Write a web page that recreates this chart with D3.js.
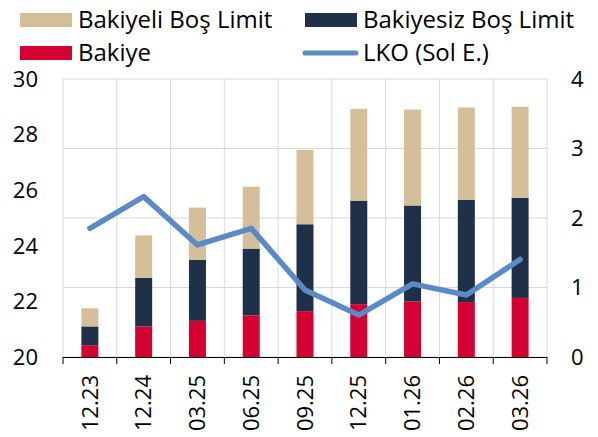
<!DOCTYPE html>
<html>
<head>
<meta charset="utf-8">
<script src="https://cdn.jsdelivr.net/npm/d3@7"></script>
<style>
  body { margin: 0; background: #fff; }
  svg { display: block; font-family: "Open Sans", sans-serif; }
</style>
</head>
<body>
<svg></svg>
<script>
// data
let categories = ['12.23', '12.24', '03.25', '06.25', '09.25', '12.25', '01.26', '02.26', '03.26']
let bakiye = [0.17, 0.44, 0.52, 0.60, 0.66, 0.76, 0.80, 0.79, 0.85]
let bakiyesizBosLimit = [0.27, 0.70, 0.88, 0.96, 1.25, 1.49, 1.38, 1.47, 1.44]
let bakiyeliBosLimit = [0.26, 0.61, 0.75, 0.89, 1.07, 1.32, 1.38, 1.33, 1.31]
let lko = [24.63, 25.77, 24.03, 24.63, 22.41, 21.51, 22.63, 22.23, 23.51]
let leftTicks = [20, 22, 24, 26, 28, 30]
let rightTicks = [0, 1, 2, 3, 4]

let width = 598
let height = 437
let plotLeft = 63
let plotRight = 547
let plotTop = 79
let plotBottom = 357

let colors = {
    bakiyeli: '#d5bf9a',
    bakiyesiz: '#1f3148',
    bakiye: '#d50032',
    lko: '#5b8bc7'
}

let svg = d3.select('svg')
    .attr('width', width)
    .attr('height', height)

let xScale = d3.scaleBand()
    .domain(categories)
    .range([plotLeft, plotRight])

let yRight = d3.scaleLinear()
    .domain([0, 4])
    .range([plotBottom, plotTop])

let yLeft = d3.scaleLinear()
    .domain([20, 30])
    .range([plotBottom, plotTop])

// gridlines
let grid = svg.append('g')
grid.selectAll('line.h')
    .data(rightTicks)
    .enter()
    .append('line')
    .attr('class', 'h')
    .attr('x1', plotLeft)
    .attr('x2', plotRight)
    .attr('y1', (d) => yRight(d))
    .attr('y2', (d) => yRight(d))
    .attr('stroke', '#d9d9d9')
    .attr('stroke-width', 1)

let bounds = categories.map((c) => xScale(c)).concat([plotRight])
grid.selectAll('line.v')
    .data(bounds)
    .enter()
    .append('line')
    .attr('class', 'v')
    .attr('x1', (d) => d)
    .attr('x2', (d) => d)
    .attr('y1', plotTop)
    .attr('y2', plotBottom)
    .attr('stroke', '#d9d9d9')
    .attr('stroke-width', 1)

// stacked bars
let rows = categories.map((c, i) => ({
    cat: c,
    bakiye: bakiye[i],
    bakiyesiz: bakiyesizBosLimit[i],
    bakiyeli: bakiyeliBosLimit[i]
}))
let stack = d3.stack().keys(['bakiye', 'bakiyesiz', 'bakiyeli'])(rows)

let barWidth = 17
svg.append('g')
    .selectAll('g')
    .data(stack)
    .enter()
    .append('g')
    .attr('fill', (s) => colors[s.key])
    .selectAll('rect')
    .data((s) => s)
    .enter()
    .append('rect')
    .attr('x', (d) => xScale(d.data.cat) + xScale.bandwidth() / 2 - barWidth / 2)
    .attr('width', barWidth)
    .attr('y', (d) => yRight(d[1]))
    .attr('height', (d) => yRight(d[0]) - yRight(d[1]))

// LKO line on the left axis
let line = d3.line()
    .x((d, i) => xScale(categories[i]) + xScale.bandwidth() / 2)
    .y((d) => yLeft(d))

svg.append('path')
    .datum(lko)
    .attr('d', line)
    .attr('fill', 'none')
    .attr('stroke', colors.lko)
    .attr('stroke-width', 5.5)
    .attr('stroke-linejoin', 'round')
    .attr('stroke-linecap', 'round')

// bottom axis
let xAxis = svg.append('g')
xAxis.append('line')
    .attr('x1', plotLeft)
    .attr('x2', plotRight)
    .attr('y1', plotBottom + 0.5)
    .attr('y2', plotBottom + 0.5)
    .attr('stroke', '#000')
xAxis.selectAll('line.tick')
    .data(bounds)
    .enter()
    .append('line')
    .attr('class', 'tick')
    .attr('x1', (d) => d)
    .attr('x2', (d) => d)
    .attr('y1', plotBottom)
    .attr('y2', plotBottom + 7)
    .attr('stroke', '#000')
xAxis.selectAll('text')
    .data(categories)
    .enter()
    .append('text')
    .attr('transform', (d) => 'translate(' + (xScale(d) + xScale.bandwidth() / 2) + ',' + 375 + ') rotate(-90)')
    .attr('dy', '0.35em')
    .attr('text-anchor', 'end')
    .attr('font-size', 22)
    .attr('fill', '#000')
    .text((d) => d)

// left axis labels
svg.append('g')
    .selectAll('text')
    .data(leftTicks)
    .enter()
    .append('text')
    .attr('x', 38)
    .attr('y', (d) => yLeft(d))
    .attr('dy', '0.35em')
    .attr('text-anchor', 'end')
    .attr('font-size', 22)
    .text((d) => d)

// right axis labels
svg.append('g')
    .selectAll('text')
    .data(rightTicks)
    .enter()
    .append('text')
    .attr('x', 571)
    .attr('y', (d) => yRight(d))
    .attr('dy', '0.35em')
    .attr('text-anchor', 'start')
    .attr('font-size', 22)
    .text((d) => d)

// legend
let legendItems = [
    { label: 'Bakiyeli Boş Limit', key: 'bakiyeli', x: 20, y: 20, type: 'rect' },
    { label: 'Bakiyesiz Boş Limit', key: 'bakiyesiz', x: 305, y: 20, type: 'rect' },
    { label: 'Bakiye', key: 'bakiye', x: 20, y: 53, type: 'rect' },
    { label: 'LKO (Sol E.)', key: 'lko', x: 305, y: 53, type: 'line' }
]
let legend = svg.append('g')
    .selectAll('g')
    .data(legendItems)
    .enter()
    .append('g')
    .attr('transform', (d) => 'translate(' + d.x + ',' + d.y + ')')

legend.filter((d) => d.type == 'rect')
    .append('rect')
    .attr('x', 0)
    .attr('y', -7)
    .attr('width', 52)
    .attr('height', 14)
    .attr('fill', (d) => colors[d.key])

legend.filter((d) => d.type == 'line')
    .append('line')
    .attr('x1', 0)
    .attr('x2', 51)
    .attr('y1', 0)
    .attr('y2', 0)
    .attr('stroke', (d) => colors[d.key])
    .attr('stroke-width', 5)
    .attr('stroke-linecap', 'round')

legend.append('text')
    .attr('x', 58)
    .attr('y', 0)
    .attr('dy', '0.35em')
    .attr('font-size', 24)
    .text((d) => d.label)
</script>
</body>
</html>
